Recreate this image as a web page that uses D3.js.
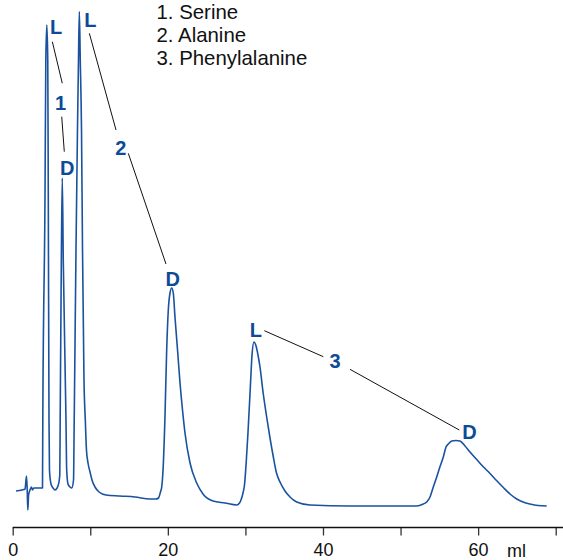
<!DOCTYPE html>
<html>
<head>
<meta charset="utf-8">
<script src="https://cdn.jsdelivr.net/npm/d3@7"></script>
<style>
  html, body { margin: 0; padding: 0; background: #fff; }
  svg { display: block; }
</style>
</head>
<body>
<svg id="chart" width="563" height="560"></svg>
<script>
// Elution volume (ml)
const volume = [
  0.43, 1.20, 1.59, 1.78, 1.87, 1.95, 2.05, 2.23, 2.42, 2.55, 2.75, 3.52,
  3.84, 3.88, 4.16, 4.27, 4.40, 4.52, 4.59, 4.68, 4.74, 4.94, 5.20, 5.45,
  5.84, 6.07, 6.12, 6.27, 6.39, 6.52, 6.87, 6.96, 7.13, 7.39, 7.61,
  7.84, 7.93, 8.16, 8.35, 8.48, 8.59, 8.71, 8.87, 9.00, 9.19, 9.36, 9.51, 9.71, 9.97,
  10.22, 10.61, 11.13, 12.03, 13.83, 15.77, 17.70, 18.47, 18.80, 19.05, 19.21, 19.38,
  19.63, 19.85, 20.06, 20.28, 20.50, 20.70, 20.92, 21.25, 21.57, 21.89, 22.21, 22.86,
  23.72, 24.53, 25.82, 27.37, 28.88, 29.24, 29.43, 29.69, 29.88, 30.08, 30.33, 30.66,
  30.85, 31.11, 31.37, 31.62, 31.88, 32.27, 32.74, 33.17, 33.60, 34.01, 34.46, 35.10,
  35.75, 36.61, 38.33, 43.48, 47.35, 49.93, 52.08, 52.93, 53.37, 53.80, 54.18, 54.66,
  55.09, 55.51, 55.86, 56.16, 56.60, 57.15, 57.66, 58.31, 58.95, 59.82, 60.63, 61.53,
  62.37, 63.25, 64.11, 64.97, 65.79, 66.69, 67.72, 68.84
];
// Detector signal (arbitrary units)
const signal = [
  3.8, 4.0, 4.2, 6.8, 4.0, 0.0, 3.0, 4.0, 4.6, 4.0, 4.4, 4.4,
  4.4, 18.0, 62.0, 90.0, 97.0, 90.0, 62.0, 18.0, 8.0, 5.2, 4.4, 4.0,
  4.8, 7.0, 18.0, 50.0, 66.4, 50.0, 18.0, 8.0, 5.2, 4.6, 4.4,
  6.0, 18.0, 52.0, 76.0, 90.0, 99.7, 90.0, 76.0, 52.0, 26.0, 18.0, 12.0, 9.4, 7.6,
  6.0, 4.6, 3.6, 3.0, 2.8, 2.6, 2.2, 2.2, 2.4, 3.6, 4.6, 8.0,
  18.6, 32.0, 40.0, 43.4, 44.4, 43.4, 38.6, 32.0, 25.4, 20.0, 15.4, 9.4,
  5.4, 3.2, 1.8, 1.4, 1.0, 1.4, 2.0, 3.4, 5.0, 9.0, 15.4, 25.4,
  31.0, 33.6, 32.8, 31.0, 28.6, 23.6, 18.6, 14.4, 10.6, 7.4, 5.6, 3.8,
  2.6, 1.6, 1.0, 0.8, 0.8, 0.8, 0.8, 1.2, 1.6, 2.6, 4.4, 6.6,
  8.7, 10.6, 12.6, 13.2, 13.8, 13.9, 13.8, 12.8, 11.6, 10.1, 8.7, 7.3,
  5.9, 4.5, 3.2, 2.2, 1.6, 1.2, 0.9, 0.8
];

const xTicks = [0, 10, 20, 30, 40, 50, 60, 70];
const xTickLabels = ["0", "", "20", "", "40", "", "60", ""];
const xUnit = "ml";

const legendItems = ["1. Serine", "2. Alanine", "3. Phenylalanine"];

// Peak annotations (text, ml, signal)
const peakLabels = ["L", "L", "1", "D", "2", "D", "L", "3", "D"];
const peakLabelX = [5.61, 10.00, 6.16, 7.04, 13.94, 20.63, 31.34, 41.55, 58.89];
const peakLabelY = [95.3, 96.7, 80.0, 67.0, 71.0, 44.8, 34.66, 28.34, 14.14];

// Connector lines (ml, signal)
const connX1 = [5.11, 6.32, 9.88, 14.90, 32.44, 43.48];
const connY1 = [93.66, 78.66, 95.34, 71.34, 35.86, 28.14];
const connX2 = [6.39, 6.65, 13.32, 19.76, 40.04, 57.57];
const connY2 = [85.34, 71.66, 76.00, 49.20, 30.66, 16.00];

const svg = d3.select("#chart");
const x = d3.scaleLinear().domain([0, 70]).range([12.7, 555.7]);
const y = d3.scaleLinear().domain([0, 100]).range([510, 10]);

const curveColor = "#1a529f";
const labelColor = "#0d4b96";
const font = "'Liberation Sans', Arial, Helvetica, sans-serif";

// trace
const pts = volume.map((v, i) => [v, signal[i]]);
svg.append("path")
  .datum(pts)
  .attr("fill", "none")
  .attr("stroke", curveColor)
  .attr("stroke-width", 1.6)
  .attr("stroke-linejoin", "round")
  .attr("d", d3.line().x(d => x(d[0])).y(d => y(d[1])).curve(d3.curveMonotoneX));

// axis
const axisY = 527.5;
const axis = d3.axisBottom(x)
  .tickValues(xTicks)
  .tickFormat((d, i) => xTickLabels[i])
  .tickSizeInner(8)
  .tickSizeOuter(0)
  .tickPadding(8);
const gAxis = svg.append("g").attr("transform", `translate(0,${axisY})`).call(axis);
gAxis.select(".domain").remove();
gAxis.selectAll(".tick line").attr("stroke", "#333").attr("stroke-width", 1.3);
gAxis.selectAll(".tick text")
  .attr("fill", "#111")
  .style("font-family", font)
  .style("font-size", "18px");
gAxis.append("line")
  .attr("x1", x(0)).attr("x2", 563)
  .attr("y1", 0).attr("y2", 0)
  .attr("stroke", "#111").attr("stroke-width", 1.3);
svg.append("text")
  .attr("x", 507).attr("y", 556.5)
  .attr("fill", "#111")
  .style("font-family", font).style("font-size", "18px")
  .text(xUnit);

// legend
svg.append("g").selectAll("text").data(legendItems).join("text")
  .attr("x", 156.5)
  .attr("y", (d, i) => 18.6 + i * 23.2)
  .attr("fill", "#111")
  .style("font-family", font).style("font-size", "20.4px")
  .text(d => d);

// connectors
svg.append("g").selectAll("line").data(connX1).join("line")
  .attr("x1", (d, i) => x(connX1[i])).attr("y1", (d, i) => y(connY1[i]))
  .attr("x2", (d, i) => x(connX2[i])).attr("y2", (d, i) => y(connY2[i]))
  .attr("stroke", "#111").attr("stroke-width", 1);

// peak labels
svg.append("g").selectAll("text").data(peakLabels).join("text")
  .attr("x", (d, i) => x(peakLabelX[i]))
  .attr("y", (d, i) => y(peakLabelY[i]))
  .attr("text-anchor", "middle")
  .attr("fill", labelColor)
  .style("font-family", font).style("font-size", "20px").style("font-weight", "bold")
  .text(d => d);
</script>
</body>
</html>
